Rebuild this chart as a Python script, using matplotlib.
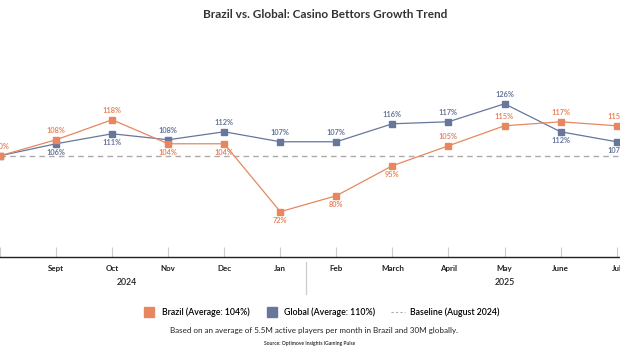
#!/usr/bin/env python3
"""Brazil vs. Global casino bettors growth trend (index, Aug 2024 = 100%)."""

import numpy as np
import matplotlib.pyplot as plt
from matplotlib.lines import Line2D

# ==============================
# Data
# ==============================
months = ["Aug", "Sept", "Oct", "Nov", "Dec", "Jan",
          "Feb", "March", "April", "May", "June", "Jul"]
brazil = [100, 108, 118, 106, 106, 72, 80, 95, 105, 115, 117, 115]
global_ = [100, 106, 111, 108, 112, 107, 107, 116, 117, 126, 112, 107]
# printed labels (Nov/Dec Brazil are labelled 104% in the source)
brazil_labels = ["100%", "108%", "118%", "104%", "104%", "72%",
                 "80%", "95%", "105%", "115%", "117%", "115%"]
global_labels = ["", "106%", "111%", "108%", "112%", "107%",
                 "107%", "116%", "117%", "126%", "112%", "107%"]
# label above (+1) or below (-1) the marker
brazil_side = [1, 1, 1, -1, -1, -1, -1, -1, 1, 1, 1, 1]
global_side = [-1, -1, -1, 1, 1, 1, 1, 1, 1, 1, -1, -1]

years = ["2024", "2025"]
year_pos = [2.27, 9.0]
baseline = 100

BRAZIL_C = "#E8875F"
GLOBAL_C = "#67769B"
BASE_C = "#AAAAAA"
FONT = "Lato"

plt.rcParams["font.family"] = [FONT, "DejaVu Sans"]

# ==============================
# Plot
# ==============================
fig = plt.figure(figsize=(6.2, 3.5), dpi=100)
ax = fig.add_axes([0.0, 0.2666, 1.0, 0.619])

x = np.arange(len(months))
ax.axhline(baseline, color=BASE_C, linestyle=(0, (4, 3)), linewidth=1.0, zorder=1)
ax.plot(x, global_, color=GLOBAL_C, linewidth=0.9, marker="s", markersize=4.2, zorder=3)
ax.plot(x, brazil, color=BRAZIL_C, linewidth=0.9, marker="s", markersize=4.2, zorder=3)

for xi, v, lab, s in zip(x, brazil, brazil_labels, brazil_side):
    ax.annotate(lab, (xi, v), xytext=(0, 6.5 * s), textcoords="offset points",
                ha="center", va="center", fontsize=5.3, fontweight="bold", color=BRAZIL_C)
for xi, v, lab, s in zip(x, global_, global_labels, global_side):
    ax.annotate(lab, (xi, v), xytext=(0, 6.5 * s), textcoords="offset points",
                ha="center", va="center", fontsize=5.3, fontweight="bold", color=GLOBAL_C)

ax.set_xlim(0.137, 11.06)
ax.set_ylim(49.5, 157.9)
ax.set_yticks([])
ax.set_xticks(x)
ax.set_xticklabels([""] + months[1:], fontsize=5.8, fontweight="bold", color="#222222")
ax.tick_params(axis="x", direction="in", length=7, width=0.8, color="#CCCCCC", pad=6)
for side in ["top", "right", "left"]:
    ax.spines[side].set_visible(False)
ax.spines["bottom"].set_color("#222222")
ax.spines["bottom"].set_linewidth(1.0)
ax.grid(False)

# year labels and separator under the axis
for lab, pos in zip(years, year_pos):
    ax.text(pos, -0.12, lab, transform=ax.get_xaxis_transform(), ha="center", va="center",
            fontsize=6.3, fontweight="semibold", color="#222222")
ax.plot([5.45, 5.45], [-0.023, -0.17], transform=ax.get_xaxis_transform(),
        color="#CCCCCC", linewidth=0.9, clip_on=False)

fig.text(0.524, 1 - 15 / 350, "Brazil vs. Global: Casino Bettors Growth Trend",
         ha="center", va="center", fontsize=8.5, fontweight="bold", color="#333333")

handles = [
    Line2D([0], [0], marker="s", linestyle="none", markersize=7,
           markerfacecolor=BRAZIL_C, markeredgecolor=BRAZIL_C),
    Line2D([0], [0], marker="s", linestyle="none", markersize=7,
           markerfacecolor=GLOBAL_C, markeredgecolor=GLOBAL_C),
    Line2D([0], [0], color=BASE_C, linestyle=(0, (2, 2)), linewidth=0.8),
]
labels = ["Brazil (Average: 104%)", "Global (Average: 110%)", "Baseline (August 2024)"]
fig.legend(handles, labels, loc="center", bbox_to_anchor=(0.518, 1 - 312 / 350),
           ncol=3, frameon=False, handlelength=1.6, handletextpad=0.6,
           columnspacing=1.8, prop={"family": [FONT], "weight": "semibold", "size": 6.3})

fig.text(0.506, 1 - 331 / 350,
         "Based on an average of 5.5M active players per month in Brazil and 30M globally.",
         ha="center", va="center", fontsize=5.8, color="#222222")
fig.text(0.5, 1 - 344 / 350, "Source: Optimove Insights iGaming Pulse",
         ha="center", va="center", fontsize=3.6, fontweight="semibold", color="#222222")

fig.savefig("out.png", dpi=100, facecolor="white")
